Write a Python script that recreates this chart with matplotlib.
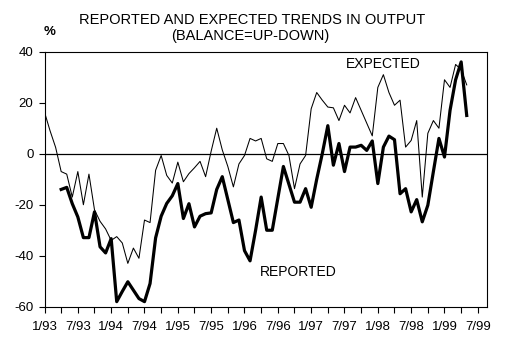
#!/usr/bin/env python3

import matplotlib
matplotlib.use("Agg")
import matplotlib.pyplot as plt
import numpy as np

# Monthly balances, January 1993 to May 1999
expected: list = [
    16.3, 9, 2.5, -7, -8, -17, -7, -20, -8, -22,
    -26.5, -29.5, -34, -32.5, -35, -43, -37, -41, -26, -27,
    -6.5, -0.7, -8.5, -11.5, -3.3, -11, -7.8, -5.5, -3, -9,
    1, 10, 1.5, -5, -13, -4, -0.7, 6, 5, 6,
    -2, -3, 4, 4, -0.7, -13.7, -4, -0.7, 17.6, 24,
    21, 18.3, 18, 13, 19, 16, 22, 17, 12, 7,
    26, 31, 24, 19, 21, 2.6, 5.2, 13, -17, 8,
    13, 10, 29, 26, 35, 33, 27,
]
reported: list = [
    None, None, None, -14, -13.2, -19.6, -24.8, -32.9, -32.9, -22.8,
    -36.5, -38.9, -33.3, -58, -54, -50.2, -53.5, -56.8, -58, -50.9,
    -33, -24.5, -19.5, -16.5, -11.7, -25.4, -19.6, -28.7, -24.5, -23.5,
    -23.2, -14, -9, -18, -27, -26, -38, -42, -30, -17,
    -30, -30, -17.5, -5, -12, -19, -19, -13.7, -21, -10,
    0, 11, -4.5, 4, -7, 2.6, 2.6, 3.3, 1.3, 5,
    -11.7, 2.6, 6.9, 5.5, -15.7, -13.7, -22.8, -18, -26.7, -20.2,
    -7, 6, -1.3, 17, 29, 36, 15,
]
tick_labels: list = [
    "1/93", "7/93", "1/94", "7/94", "1/95", "7/95", "1/96",
    "7/96", "1/97", "7/97", "1/98", "7/98", "1/99", "7/99",
]
y_ticks: list = [-60, -40, -20, 0, 20, 40]


def ft_plot() -> None:
    """
    Draws the reported and expected output balances and saves out.png.
    """
    plt.rcParams["font.family"] = ["Liberation Sans", "DejaVu Sans"]
    fig = plt.figure(figsize=(5.08, 3.47), dpi=100)
    ax = fig.add_axes([0.0876, 0.116, 0.8705, 0.735])

    months = np.arange(len(expected))
    rep = np.array(reported, dtype=float)

    ax.axhline(0, color="black", linewidth=0.9, zorder=1)
    ax.plot(months, expected, color="black", linewidth=0.75, zorder=2)
    ax.plot(months, rep, color="black", linewidth=2.3, zorder=3)

    ax.set_xlim(0, 79.6)
    ax.set_ylim(-60, 40)
    ax.set_xticks(np.arange(0, 79, 3), minor=True)
    ax.set_xticks(np.arange(0, 79, 6))
    ax.set_xticklabels(tick_labels)
    ax.set_yticks(y_ticks)
    ax.set_yticklabels([str(v) for v in y_ticks])

    ax.tick_params(axis="both", which="both", direction="out",
                   length=4, width=0.8, labelsize=9.5, color="black")
    ax.tick_params(axis="x", which="minor", labelbottom=False)
    ax.tick_params(axis="x", pad=6)
    ax.tick_params(axis="y", pad=4)
    for spine in ax.spines.values():
        spine.set_linewidth(0.8)

    ax.text(61, 35, "EXPECTED", ha="center", va="center", fontsize=10)
    ax.text(45.6, -46.4, "REPORTED", ha="center", va="center", fontsize=10)

    fig.text(0.496, 0.942, "REPORTED AND EXPECTED TRENDS IN OUTPUT",
             ha="center", va="center", fontsize=10.5)
    fig.text(0.492, 0.897, "(BALANCE=UP-DOWN)",
             ha="center", va="center", fontsize=10.5)
    fig.text(0.098, 0.907, "%", ha="center", va="center",
             fontsize=9.5, fontweight="bold")

    fig.savefig("out.png", dpi=100)


if __name__ == "__main__":
    ft_plot()
